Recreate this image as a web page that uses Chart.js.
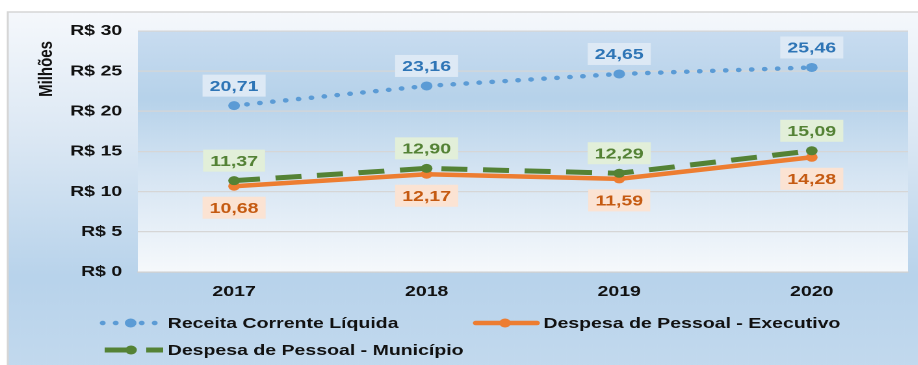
<!DOCTYPE html>
<html>
<head>
<meta charset="utf-8">
<script src="https://cdn.jsdelivr.net/npm/chart.js@4.4.1/dist/chart.umd.min.js"></script>
<style>
    html, body { margin: 0; padding: 0; background: #fff; overflow: hidden; }
    /* the chart is laid out narrow and then widened, so text and markers come out stretched */
    #wrap { width: 706px; height: 365px; transform: scaleX(1.3); transform-origin: 0 0; }
</style>
</head>
<body>
<div id="wrap"><canvas id="chart" width="706" height="365"></canvas></div>
<script>
const years = ['2017', '2018', '2019', '2020'];
const receitaCorrente = [20.71, 23.16, 24.65, 25.46];
const despesaExecutivo = [10.68, 12.17, 11.59, 14.28];
const despesaMunicipio = [11.37, 12.90, 12.29, 15.09];
const yTicks = [0, 5, 10, 15, 20, 25, 30];

const FONT = '"Liberation Sans", Arial, sans-serif';

// value boxes above / below each point
const valueLabels = {
    id: 'valueLabels',
    afterDatasetsDraw(chart) {
        const ctx = chart.ctx;
        ctx.save();
        ctx.font = 'bold 15px ' + FONT;
        ctx.textAlign = 'center';
        ctx.textBaseline = 'middle';
        chart.data.datasets.forEach((ds, i) => {
            chart.getDatasetMeta(i).data.forEach((pt, j) => {
                const txt = ds.data[j].toFixed(2).replace('.', ',');
                const w = ctx.measureText(txt).width + 11;
                const cy = pt.y + ds.labelOffset;
                ctx.fillStyle = ds.labelBg;
                ctx.fillRect(pt.x - w / 2, cy - 11, w, 22);
                ctx.fillStyle = ds.labelColor;
                ctx.fillText(txt, pt.x, cy + 1);
            });
        });
        ctx.restore();
    }
};

// backgrounds, y title and the legend drawn by hand
const decorations = {
    id: 'decorations',
    beforeDraw(chart) {
        const { ctx, width, height, chartArea: a } = chart;
        ctx.save();
        ctx.fillStyle = '#ffffff';
        ctx.fillRect(0, 0, width, height);

        const outer = ctx.createLinearGradient(0, 12, 0, height);
        outer.addColorStop(0, '#f5f8fc');
        outer.addColorStop(0.35, '#dce8f4');
        outer.addColorStop(0.75, '#b8d3eb');
        outer.addColorStop(1, '#c2d9ee');
        ctx.fillStyle = outer;
        ctx.fillRect(6, 12, width - 6, height - 12);
        ctx.strokeStyle = '#d6d6d6';
        ctx.lineWidth = 1.5;
        ctx.beginPath();
        ctx.moveTo(6, height);
        ctx.lineTo(6, 12);
        ctx.lineTo(width, 12);
        ctx.stroke();

        const inner = ctx.createLinearGradient(0, a.top, 0, a.bottom);
        inner.addColorStop(0, '#c8dcf0');
        inner.addColorStop(0.28, '#b6d2ea');
        inner.addColorStop(0.6, '#d6e5f3');
        inner.addColorStop(1, '#f6f9fc');
        ctx.fillStyle = inner;
        ctx.fillRect(a.left, a.top, a.right - a.left, a.bottom - a.top);
        ctx.restore();
    },
    afterDraw(chart) {
        const ctx = chart.ctx;
        ctx.save();
        ctx.fillStyle = '#111';
        ctx.font = 'bold 15px ' + FONT;
        ctx.textBaseline = 'middle';

        // y axis title
        ctx.save();
        ctx.translate(36, 69);
        ctx.rotate(-Math.PI / 2);
        ctx.textAlign = 'center';
        ctx.fillText('Milhões', 0, 0);
        ctx.restore();

        const items = [
            { ds: 0, x0: 79, x1: 121, px: 100.5, tx: 129, y: 323 },
            { ds: 1, x0: 366, x1: 413, px: 388.5, tx: 418, y: 323 },
            { ds: 2, x0: 80.5, x1: 125.5, px: 100.8, tx: 129, y: 350 }
        ];
        items.forEach(it => {
            const ds = chart.data.datasets[it.ds];
            ctx.save();
            ctx.strokeStyle = ds.borderColor;
            ctx.lineWidth = ds.borderWidth;
            ctx.lineCap = ds.borderCapStyle;
            ctx.setLineDash(ds.borderDash);
            ctx.beginPath();
            ctx.moveTo(it.x0, it.y);
            ctx.lineTo(it.x1, it.y);
            ctx.stroke();
            ctx.fillStyle = ds.borderColor;
            ctx.beginPath();
            ctx.arc(it.px, it.y, ds.pointRadius, 0, Math.PI * 2);
            ctx.fill();
            ctx.restore();
            ctx.textAlign = 'left';
            ctx.fillText(ds.label, it.tx, it.y + 1);
        });
        ctx.restore();
    }
};

new Chart(document.getElementById('chart'), {
    type: 'line',
    data: {
        labels: years,
        datasets: [
            {
                label: 'Receita Corrente Líquida',
                data: receitaCorrente,
                borderColor: '#5b9bd5',
                borderWidth: 4.5,
                borderDash: [0, 10],
                borderCapStyle: 'round',
                pointRadius: 4.5,
                pointBackgroundColor: '#5b9bd5',
                pointBorderWidth: 0,
                labelOffset: -20,
                labelBg: '#dde9f5',
                labelColor: '#2e75b6',
                order: 2
            },
            {
                label: 'Despesa de Pessoal - Executivo',
                data: despesaExecutivo,
                borderColor: '#ed7d31',
                borderWidth: 4.5,
                borderDash: [],
                borderCapStyle: 'round',
                pointRadius: 4.5,
                pointBackgroundColor: '#ed7d31',
                pointBorderWidth: 0,
                labelOffset: 21.5,
                labelBg: '#fbe3d3',
                labelColor: '#c55a11',
                order: 1
            },
            {
                label: 'Despesa de Pessoal - Município',
                data: despesaMunicipio,
                borderColor: '#548235',
                borderWidth: 5,
                borderDash: [20, 12],
                borderCapStyle: 'butt',
                pointRadius: 4.5,
                pointBackgroundColor: '#548235',
                pointBorderWidth: 0,
                labelOffset: -20,
                labelBg: '#e2efd9',
                labelColor: '#548235',
                order: 0
            }
        ]
    },
    options: {
        responsive: false,
        devicePixelRatio: 2,
        animation: false,
        layout: { padding: { left: 0, top: 31, right: 7.5, bottom: 58 } },
        plugins: {
            legend: { display: false },
            tooltip: { enabled: false }
        },
        elements: { line: { tension: 0 } },
        scales: {
            x: {
                offset: true,
                grid: { display: false, drawTicks: false },
                border: { color: '#cfcfcf' },
                ticks: { color: '#111', font: { family: FONT, size: 15, weight: 'bold' }, padding: 11 },
                afterFit: (scale) => { scale.height = 35; }
            },
            y: {
                min: 0,
                max: 30,
                afterBuildTicks: (scale) => { scale.ticks = yTicks.map(v => ({ value: v })); },
                grid: { color: '#d6d6d6', lineWidth: 1.2, drawTicks: false },
                border: { display: false },
                ticks: {
                    color: '#111',
                    font: { family: FONT, size: 15, weight: 'bold' },
                    padding: 12,
                    callback: (v) => 'R$ ' + v
                },
                afterFit: (scale) => { scale.width = 106; }
            }
        }
    },
    plugins: [decorations, valueLabels]
});
</script>
</body>
</html>
